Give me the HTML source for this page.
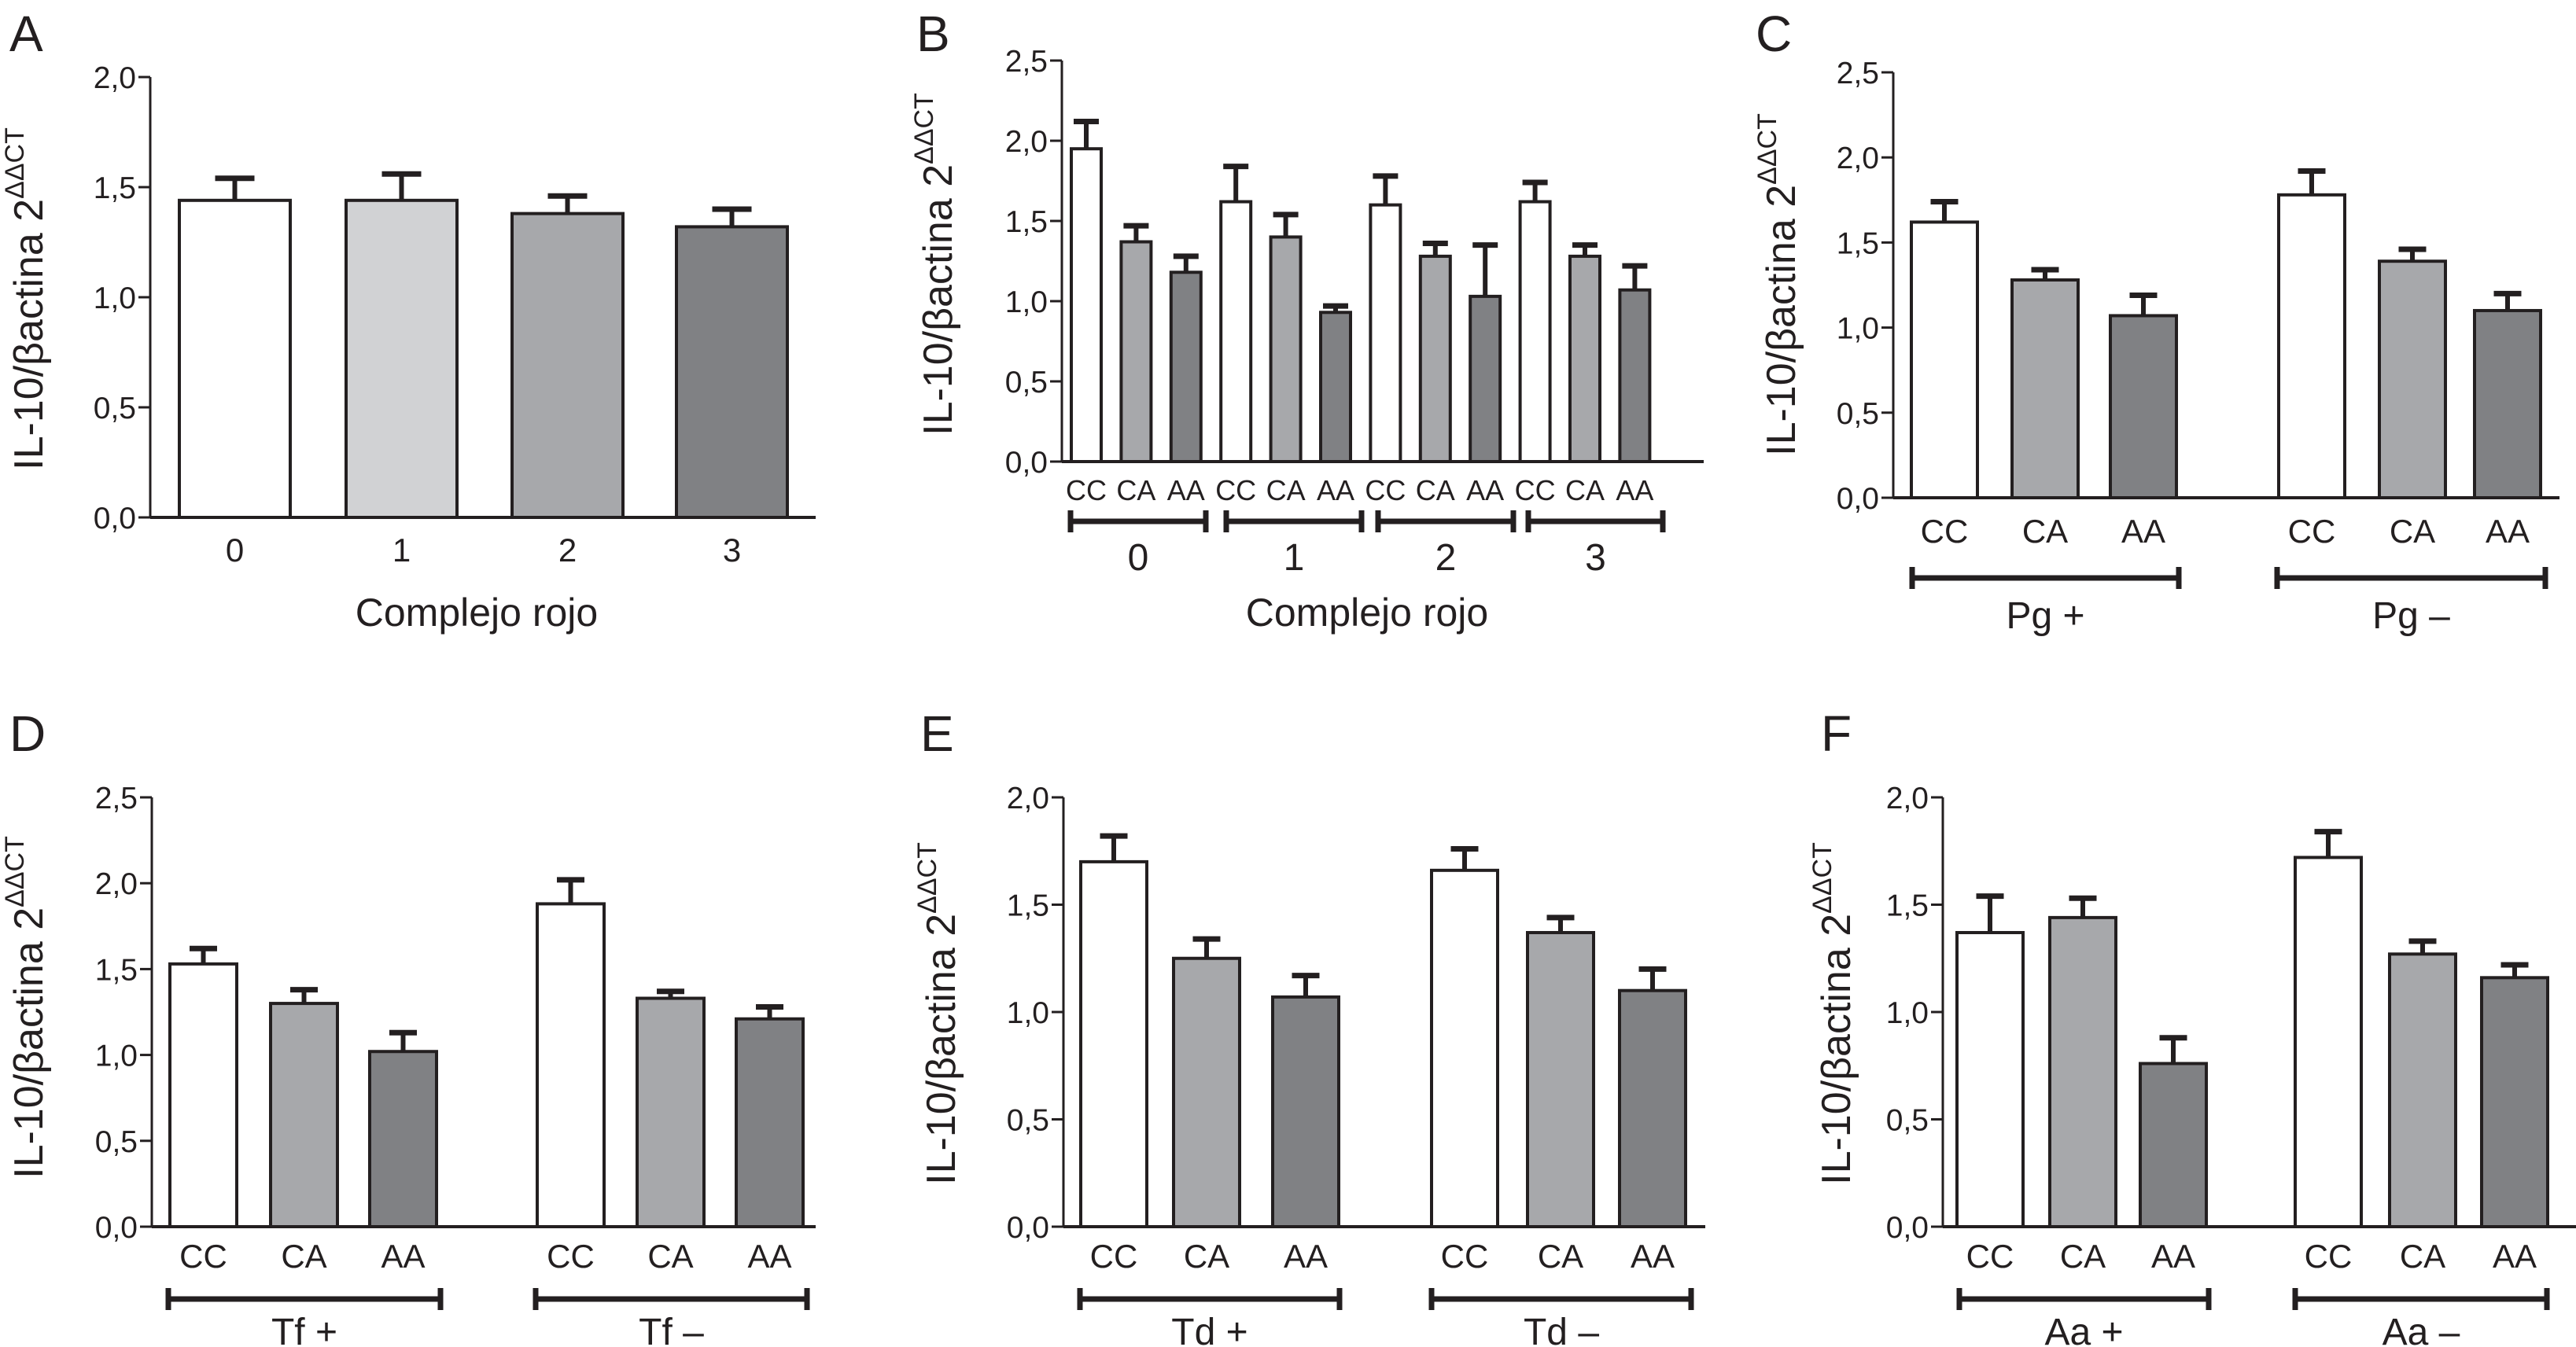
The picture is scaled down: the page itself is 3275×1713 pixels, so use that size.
<!DOCTYPE html>
<html><head><meta charset="utf-8"><style>
html,body{margin:0;padding:0;background:#fff;}
svg{display:block;}
text{font-family:"Liberation Sans Narrow","Liberation Sans",sans-serif;fill:#231f20;}
.lett{font-family:"Liberation Sans",sans-serif;}
.yt{font-family:"Liberation Sans",sans-serif;}
</style></head><body>
<svg id="fig" width="3275" height="1713" viewBox="0 0 3275 1713" xmlns="http://www.w3.org/2000/svg"></svg>
<script>
// Panel A
const aCats = ["0","1","2","3"];
const aVals = [1.44,1.44,1.38,1.32];
const aErr = [1.54,1.56,1.46,1.40];
const aTicks = ["0,0","0,5","1,0","1,5","2,0"];
// Panel B
const bCats = ["CC","CA","AA","CC","CA","AA","CC","CA","AA","CC","CA","AA"];
const bVals = [1.95,1.37,1.18,1.62,1.40,0.93,1.60,1.28,1.03,1.62,1.28,1.07];
const bErr = [2.12,1.47,1.28,1.84,1.54,0.97,1.78,1.36,1.35,1.74,1.35,1.22];
const bGroups = ["0","1","2","3"];
const tick25 = ["0,0","0,5","1,0","1,5","2,0","2,5"];
const tick20 = ["0,0","0,5","1,0","1,5","2,0"];
const genoCats = ["CC","CA","AA","CC","CA","AA"];
// Panel C
const cVals = [1.62,1.28,1.07,1.78,1.39,1.10];
const cErr = [1.74,1.34,1.19,1.92,1.46,1.20];
const cGroups = ["Pg +","Pg \u2013"];
// Panel D
const dVals = [1.53,1.30,1.02,1.88,1.33,1.21];
const dErr = [1.62,1.38,1.13,2.02,1.37,1.28];
const dGroups = ["Tf +","Tf \u2013"];
// Panel E
const eVals = [1.70,1.25,1.07,1.66,1.37,1.10];
const eErr = [1.82,1.34,1.17,1.76,1.44,1.20];
const eGroups = ["Td +","Td \u2013"];
// Panel F
const fVals = [1.37,1.44,0.76,1.72,1.27,1.16];
const fErr = [1.54,1.53,0.88,1.84,1.33,1.22];
const fGroups = ["Aa +","Aa \u2013"];

const NS="http://www.w3.org/2000/svg";
const svg=document.getElementById('fig');
const W="#fff",L="#d1d2d4",M="#a7a8ab",D="#808184",K="#231f20";
function mk(tag,attrs,parent,txt){const e=document.createElementNS(NS,tag);for(const k in attrs)e.setAttribute(k,attrs[k]);if(txt!==undefined)e.textContent=txt;(parent||svg).appendChild(e);return e;}

function panel(p){
  const g=mk('g',{});
  
  
  const y=v=>p.y0-(v/p.ymax)*(p.y0-p.ytop);
  const lt=mk('text',{x:p.lx,y:p.ly,'font-size':64,class:'lett'},g,p.id);
  
  
  const ax=mk('line',{x1:p.ax,y1:p.ytop,x2:p.ax,y2:p.y0,stroke:K,'stroke-width':3},g);
  
  
  p.ticks.forEach((t,i)=>{
    const v=i*0.5, yy=y(v);
    const tk=mk('line',{x1:p.ax-15,y1:yy,x2:p.ax,y2:yy,stroke:K,'stroke-width':3},g);
    
    
    const tl=mk('text',{x:p.ax-18,y:yy+14,'font-size':39,'text-anchor':'end'},g,t);
    
    
  });
  const xa=mk('line',{x1:p.ax,y1:p.y0,x2:p.xend,y2:p.y0,stroke:K,'stroke-width':4},g);
  
  
  const yt=mk('text',{x:0,y:0,'font-size':52,'text-anchor':'middle',class:'yt',transform:`translate(${p.tx},${p.ty}) rotate(-90)`},g);
  
  
  mk('tspan',{},yt,'IL-10/\u03b2actina 2');
  mk('tspan',{'font-size':34,dy:-24},yt,'\u0394\u0394CT');
  p.vals.forEach((v,i)=>{
    const x=p.lefts[i], w=p.bw, cx=x+w/2, top=y(v), et=y(p.err[i]);
    const el=mk('line',{x1:cx,y1:top,x2:cx,y2:et,stroke:K,'stroke-width':6},g);
    
    
    const cp=mk('line',{x1:cx-p.cap/2,y1:et,x2:cx+p.cap/2,y2:et,stroke:K,'stroke-width':7},g);
    
    
    const r=mk('rect',{x:x,y:top,width:w,height:p.y0-top,fill:p.fills[i],stroke:K,'stroke-width':4},g);
    
    
    const cl=mk('text',{x:cx,y:p.caty,'font-size':p.catfs,'text-anchor':'middle'},g,p.cats[i]);
    
    
  });
  if(p.brackets){
    p.brackets.forEach((b,i)=>{
      const bl=mk('path',{d:`M${b[0]} ${p.by}H${b[1]}M${b[0]} ${p.by-14}V${p.by+14}M${b[1]} ${p.by-14}V${p.by+14}`,stroke:K,'stroke-width':7,fill:'none'},g);
      
      
      const gl=mk('text',{x:(b[0]+b[1])/2,y:p.gy,'font-size':48,'text-anchor':'middle'},g,p.groups[i]);
      
      
    });
  }
  if(p.xtitle){
    const xt=mk('text',{x:p.xtx,y:p.xty,'font-size':50,'text-anchor':'middle'},g,p.xtitle);
    
    
  }
}
const six=[W,M,D,W,M,D];
panel({id:'A',lx:12,ly:65,ax:191,ytop:98,y0:658,ymax:2.0,xend:1037,ticks:aTicks,tx:54,ty:380,
  vals:aVals,err:aErr,cats:aCats,lefts:[228,440,651,860],bw:141,cap:50,fills:[W,L,M,D],caty:714,catfs:42,
  xtitle:'Complejo rojo',xtx:606,xty:796});
panel({id:'B',lx:1165,ly:65,ax:1350,ytop:77,y0:587,ymax:2.5,xend:2166,ticks:tick25,tx:1210,ty:336,
  vals:bVals,err:bErr,cats:bCats,lefts:bVals.map((_,i)=>1362+i*63.4),bw:38,cap:32,fills:[W,M,D,W,M,D,W,M,D,W,M,D],caty:636,catfs:36,
  brackets:[[1361,1533],[1559,1731],[1752,1924],[1943,2114]],by:663,gy:725,groups:bGroups,
  xtitle:'Complejo rojo',xtx:1738,xty:796});
panel({id:'C',lx:2232,ly:65,ax:2407,ytop:92,y0:633,ymax:2.5,xend:3254,ticks:tick25,tx:2282,ty:362,
  vals:cVals,err:cErr,cats:genoCats,lefts:[2430,2558,2683,2897,3025,3146],bw:84,cap:35,fills:six,caty:690,catfs:42,
  brackets:[[2431,2770],[2895,3236]],by:735,gy:799,groups:cGroups});
panel({id:'D',lx:12,ly:955,ax:193,ytop:1014,y0:1560,ymax:2.5,xend:1037,ticks:tick25,tx:54,ty:1281,
  vals:dVals,err:dErr,cats:genoCats,lefts:[216,344,470,683,810,936],bw:85,cap:35,fills:six,caty:1612,catfs:42,
  brackets:[[214,560],[681,1026]],by:1652,gy:1710,groups:dGroups});
panel({id:'E',lx:1170,ly:955,ax:1352,ytop:1014,y0:1560,ymax:2.0,xend:2168,ticks:tick20,tx:1214,ty:1289,
  vals:eVals,err:eErr,cats:genoCats,lefts:[1374,1492,1618,1820,1942,2059],bw:84,cap:35,fills:six,caty:1612,catfs:42,
  brackets:[[1373,1703],[1820,2150]],by:1652,gy:1710,groups:eGroups});
panel({id:'F',lx:2315,ly:955,ax:2470,ytop:1014,y0:1560,ymax:2.0,xend:3275,ticks:tick20,tx:2352,ty:1289,
  vals:fVals,err:fErr,cats:genoCats,lefts:[2488,2606,2721,2918,3038,3155],bw:84,cap:35,fills:six,caty:1612,catfs:42,
  brackets:[[2491,2808],[2918,3238]],by:1652,gy:1710,groups:fGroups});
</script>
</body></html>
